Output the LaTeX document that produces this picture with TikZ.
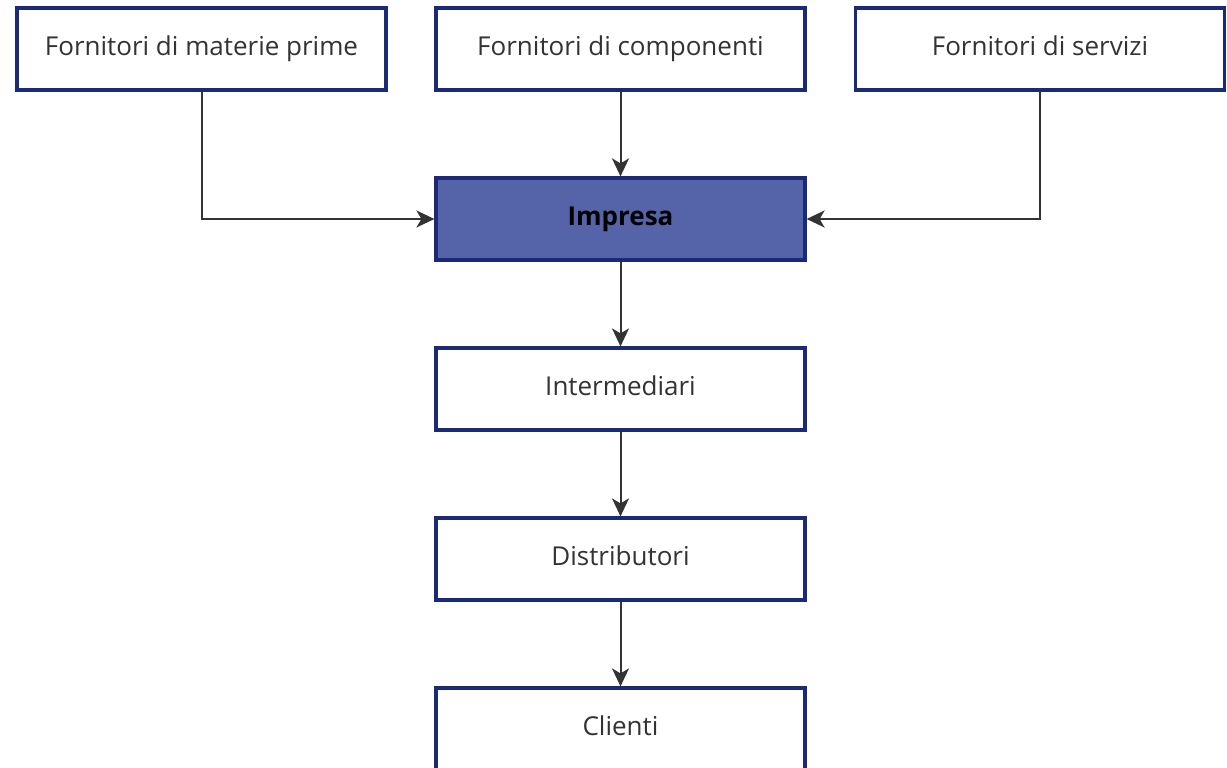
\documentclass[tikz,border=0pt]{standalone}
\usepackage{fontspec}
\setmainfont{Open Sans}
\usetikzlibrary{arrows.meta}
\definecolor{BoxBorder}{HTML}{1B2A78}
\definecolor{BoxFill}{HTML}{5563A8}
\newcommand{\BoxWidth}{369pt}
\newcommand{\BoxHeight}{82pt}
\tikzset{Box/.style={
		inner sep=0pt,
		minimum width=\BoxWidth,
		minimum height=\BoxHeight,
		draw=BoxBorder,
		line width=3.2pt,
		fill=white,
		align=center,
		text height=19pt,
		text depth=6pt,
		font=\fontsize{26}{30}\selectfont,
		text=black!80,
	},
	MainBox/.style={
		Box,
		fill=BoxFill,
		text=black,
		font=\fontsize{26}{30}\selectfont\bfseries,
	},
	Link/.style={
		draw=black!80,
		line width=2pt,
		-{Stealth[length=18pt,width=17pt,inset=5pt]},
	}
}

\begin{document}
\begin{tikzpicture}[x=1pt,y=-1pt]
		\useasboundingbox (0,0) rectangle (1227,768);
		% fornitori
		\node [Box] (materie) at (201.5,49) {Fornitori di materie prime};
		\node [Box] (componenti) at (620.5,49) {Fornitori di componenti};
		\node [Box] (servizi) at (1040,49) {Fornitori di servizi};
		% impresa e valle
		\node [MainBox] (impresa) at (620.5,219) {Impresa};
		\node [Box] (intermediari) at (620.5,389) {Intermediari};
		\node [Box] (distributori) at (620.5,559) {Distributori};
		\node [Box] (clienti) at (620.5,729) {Clienti};
		% collegamenti
		\draw [Link] (materie.south) |- (impresa.west);
		\draw [Link] (servizi.south) |- (impresa.east);
		\foreach \From/\To in {componenti/impresa, impresa/intermediari, intermediari/distributori, distributori/clienti}{%
			\draw [Link] (\From.south) -- (\To.north);
		}
	\end{tikzpicture}
\end{document}
